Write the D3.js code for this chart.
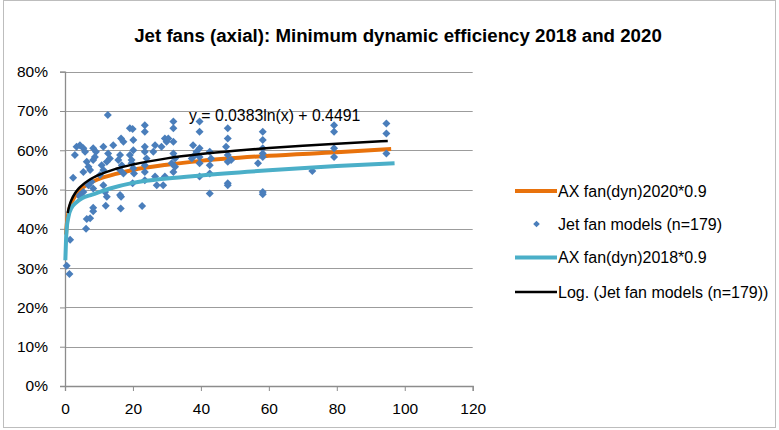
<!DOCTYPE html>
<html><head><meta charset="utf-8">
<script src="https://cdn.jsdelivr.net/npm/d3@7"></script>
<style>body{margin:0;background:#fff}svg{display:block}text{font-family:"Liberation Sans",Arial,sans-serif;fill:#000}</style>
</head><body><svg id="c" width="779" height="430"></svg>
<script>
const title = "Jet fans (axial): Minimum dynamic efficiency 2018 and 2020";
const xTicks = [0,20,40,60,80,100,120];
const yTicks = [0,0.1,0.2,0.3,0.4,0.5,0.6,0.7,0.8];
// Jet fan models (power, efficiency %)
const modelX = [0.5,1.3,1.5,6.4,7.4,6.2,8.3,8.3,12,16.4,16.5,12.3,4.4,22.7,
12.6,2.4,3.4,4.4,5.4,5.9,2.9,8.3,9.1,8.8,8.3,11.3,14.2,16.5,17.2,19.1,12.7,13.2,12.3,10.8,16.2,15.7,16.7,16.2,17.2,6.4,6.9,7.4,5.4,11.3,10.3,7.8,6.9,8.3,5.4,4.4,11.3,11.8,16.2,19.1,19.6,
19.9,20.1,20.1,19.6,20.1,20.3,19.9,23.5,23.5,23.5,23.5,24,23.5,23.5,26.5,26,28.4,29.4,29.9,30.4,31.9,31.9,31.9,31.9,32.4,31.4,32.4,31.9,23.5,26.5,27,29.4,28.9,37.7,38.7,37.3,38.2,
39.6,39.6,39.6,39.6,39.6,39.6,42.6,43,42.6,42.6,42.6,47.9,47.9,47.4,47.9,47.9,48.9,47.9,47.9,58.2,58.2,58.2,58.2,58.2,56.8,58.2,58.2,72.8,79.2,79.2,79.2,79.2,94.6,94.6,94.6];
const modelY = [30.6,28.5,37.2,42.5,42.7,40,45.4,44.5,45.9,45.2,48.2,48.2,48.2,45.8,
69,53,60.9,61.3,60.5,59.6,58.8,60.5,59.6,58.3,57.5,60.9,61.3,63,62.2,65.6,59.2,57.9,57.1,56.2,58.8,57.5,56.2,55,54.1,57.1,55.8,55,54.5,55,53.7,52,51.1,50.3,49.4,48.6,51.1,49.4,48.6,58.8,56.7,
65.4,62.6,60,57.5,55.4,54.1,51.6,66.4,64.7,60.9,59.6,57.9,56.2,54.5,61.3,59.6,60.9,63,62.2,63,67.3,65.6,62.2,59.2,57.9,56.7,55.8,54.5,52.4,53.3,51.1,53.3,51.1,61.3,59.6,57.9,58.8,
67.3,64.7,60.5,58.3,56.7,53.3,59.6,57.9,56.2,54.1,49,65.6,63,60.9,58.8,57.1,57.5,51.6,51.1,64.7,62.6,60.5,59.2,58.3,56.7,49.4,48.8,54.7,66.4,64.7,60.5,58.3,66.8,64.3,59.2];
// AX fan(dyn)2020*0.9
const ax2020X = [0.3,0.5,1,2,3,5,7,10,15,20,30,40,60,80,96];
const ax2020Y = [38.5,41,44,46.8,48.4,50.3,51.5,52.7,54,55,56.3,57.3,58.6,59.5,60.3];
// AX fan(dyn)2018*0.9
const ax2018X = [0.1,0.3,0.5,1,2,3,5,8,13,20,30,40,60,80,97];
const ax2018Y = [32,37,40,43,45.5,46.5,47.8,48.7,50.2,51.7,52.8,53.6,54.9,56,56.7];
// Log trendline
const logX = [0.8,1,1.5,2,3,4,5,7,10,15,20,30,40,50,60,70,80,95];
const logY = [44.06,44.91,46.46,47.56,49.12,50.22,51.07,52.36,53.73,55.28,56.38,57.94,59.04,59.89,60.59,61.18,61.69,62.35];
const trendLabel = "y = 0.0383ln(x) + 0.4491";
const legendNames = ["AX fan(dyn)2020*0.9","Jet fan models (n=179)","AX fan(dyn)2018*0.9","Log. (Jet fan models (n=179))"];

const svg = d3.select("#c");
const x = d3.scaleLinear().domain([0,120]).range([65,472.7]);
const y = d3.scaleLinear().domain([0,0.8]).range([386,71.7]);

svg.append("rect").attr("x",3.5).attr("y",0.5).attr("width",772).attr("height",427).attr("fill","#fff").attr("stroke","#bdbdbd");

svg.append("text").attr("x",398).attr("y",42).attr("text-anchor","middle")
  .style("font-weight","bold").style("font-size","18.7px").text(title);

// gridlines
svg.append("g").selectAll("line").data(yTicks.filter(d=>d>0)).join("line")
  .attr("x1",x(0)).attr("x2",x(120)).attr("y1",d=>Math.round(y(d))+0.5).attr("y2",d=>Math.round(y(d))+0.5)
  .attr("stroke","#9c9c9c").attr("stroke-width",1);

const yAxis = d3.axisLeft(y).tickValues(yTicks).tickFormat(d3.format(".0%")).tickSize(5).tickPadding(12);
const gy = svg.append("g").attr("transform",`translate(${x(0)},0)`).call(yAxis);
const xAxis = d3.axisBottom(x).tickValues(xTicks).tickSize(5).tickPadding(12);
const gx = svg.append("g").attr("transform",`translate(0,${y(0)})`).call(xAxis);
[gx,gy].forEach(g=>{
  g.select(".domain").attr("stroke","#8c8c8c").attr("stroke-width",1.3);
  g.selectAll(".tick line").attr("stroke","#8c8c8c");
  g.selectAll("text").style("font-family","'Liberation Sans',Arial,sans-serif").style("font-size","15.5px").attr("fill","#000");
});

const line = d3.line().x(d=>x(d[0])).y(d=>y(d[1]/100)).curve(d3.curveMonotoneX);
const orange = "#E8720C", cyan = "#4BAFC8", blue = "#4A7EBB";

svg.append("path").datum(d3.zip(ax2020X,ax2020Y)).attr("d",line).attr("fill","none").attr("stroke",orange).attr("stroke-width",4);

const diamond = d3.symbol().type(d3.symbolSquare).size(32);
svg.append("g").selectAll("path").data(d3.zip(modelX,modelY)).join("path")
  .attr("d",diamond).attr("transform",d=>`translate(${x(d[0])},${y(d[1]/100)}) rotate(45)`).attr("fill",blue);

svg.append("path").datum(d3.zip(ax2018X,ax2018Y)).attr("d",line).attr("fill","none").attr("stroke",cyan).attr("stroke-width",4);
svg.append("path").datum(d3.zip(logX,logY)).attr("d",line).attr("fill","none").attr("stroke","#000").attr("stroke-width",2.5);

svg.append("text").attr("x",189).attr("y",121).style("font-size","15.8px").text(trendLabel);

// legend
const lg = svg.append("g");
const ly = [191,224,257.5,292];
const lstyle = [{c:orange,w:4},{sym:true},{c:cyan,w:4},{c:"#000",w:2.5}];
lstyle.forEach((s,i)=>{
  if(s.sym){
    lg.append("path").attr("d",d3.symbol().type(d3.symbolSquare).size(22)).attr("transform",`translate(536.5,${ly[i]}) rotate(45)`).attr("fill",blue);
  } else {
    lg.append("line").attr("x1",515).attr("x2",557).attr("y1",ly[i]).attr("y2",ly[i]).attr("stroke",s.c).attr("stroke-width",s.w);
  }
  lg.append("text").attr("x",558).attr("y",ly[i]+5.5).style("font-size","16px").text(legendNames[i]);
});
</script></body></html>
